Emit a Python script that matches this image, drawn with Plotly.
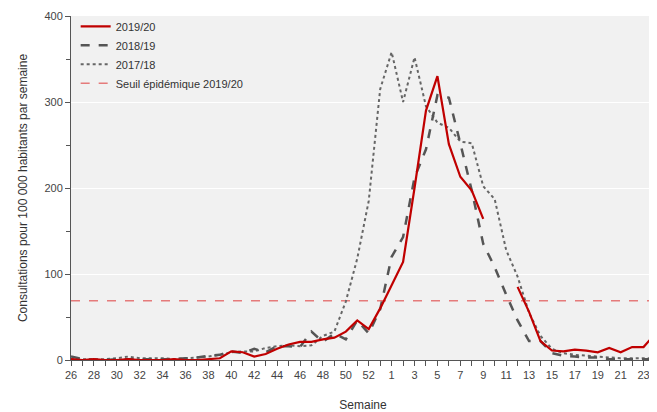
import plotly.graph_objects as go

weeks = [str(w) for w in range(26, 54)] + [str(w) for w in range(1, 25)]
tick_labels = [w if i % 2 == 0 else "" for i, w in enumerate(weeks)]

s2019_20 = [1, 0, 1, 0, 0, 1, 0, 0, 0, 1, 0, 0, 1, 2, 10, 9, 4, 7, 13, 18, 21, 21, 24, 26, 33, 46, 36, 60,
            87, 114, 200, 290, 330, 251, 213, 197, 164, None, None, 85, 56, 22, 11, 10, 12, 11, 9, 14, 9, 15, 15, 30]
s2018_19 = [4, 1, 0, 0, 1, 1, 1, 1, 1, 1, 2, 3, 5, 6, 10, 8, 13, 9, 16, 16, 15, 33, 21, 31, 24, 46, 31, 59,
            120, 143, 212, 245, 308, 305, 252, 197, 135, 108, 76, 46, 22, 22, 8, 5, 4, 3, 3, 1, 1, 1, 1, 1]
s2017_18 = [1, 1, 1, 1, 2, 4, 2, 2, 2, 1, 2, 3, 4, 6, 9, 10, 10, 14, 16, 17, 16, 17, 28, 33, 68, 118, 185, 315,
            358, 300, 352, 295, 276, 270, 254, 252, 202, 187, 128, 97, 55, 28, 13, 8, 6, 5, 4, 3, 2, 2, 2, 2]
threshold = 69
threshold_line = [threshold] * len(weeks)

fig = go.Figure()
fig.add_trace(go.Scatter(x=weeks, y=threshold_line, mode="lines", name="Seuil épidémique 2019/20",
                         line=dict(color="#e57b7b", width=1.5, dash="dash"), legendrank=4))
fig.add_trace(go.Scatter(x=weeks, y=s2017_18, mode="lines", name="2017/18",
                         line=dict(color="#666666", width=2, dash="dot"), legendrank=3))
fig.add_trace(go.Scatter(x=weeks, y=s2018_19, mode="lines", name="2018/19",
                         line=dict(color="#555555", width=2.5, dash="dash"), legendrank=2))
fig.add_trace(go.Scatter(x=weeks, y=s2019_20, mode="lines", name="2019/20",
                         line=dict(color="#c00000", width=2.2), legendrank=1, connectgaps=False))

# page body has an 8px default margin: figure sized/offset to compensate
fig.update_layout(
    width=649, height=404,
    margin=dict(l=63, r=2, t=5, b=51),
    paper_bgcolor="white",
    plot_bgcolor="#f1f1f1",
    font=dict(family="Liberation Sans, Arial, sans-serif", size=11, color="#333333"),
    showlegend=True,
    legend=dict(x=0.008, y=1.012, xanchor="left", yanchor="top", bgcolor="rgba(0,0,0,0)",
                font=dict(size=11, color="#333333"), tracegroupgap=0, itemwidth=30),
    xaxis=dict(
        type="category", categoryorder="array", categoryarray=weeks,
        range=[0, len(weeks) - 1],
        tickmode="array", tickvals=weeks, ticktext=tick_labels,
        ticks="outside", ticklen=5, tickcolor="#555555",
        showline=True, linecolor="#555555", linewidth=1,
        showgrid=False, zeroline=False,
        tickfont=dict(size=11, color="#444444"),
        title=dict(text="Semaine", font=dict(size=12, color="#333333"), standoff=20),
    ),
    yaxis=dict(
        range=[0, 400], tickvals=[0, 100, 200, 300, 400],
        ticks="outside", ticklen=5, tickcolor="#555555",
        ticklabeloverflow="allow",
        minor=dict(tickvals=[50, 150, 250, 350], ticks="outside", ticklen=4, tickcolor="#555555", showgrid=False),
        showline=True, linecolor="#555555", linewidth=1,
        showgrid=True, gridcolor="white", gridwidth=1, zeroline=False,
        tickfont=dict(size=11, color="#444444"),
        title=dict(text="Consultations pour 100 000 habitants par semaine", font=dict(size=12, color="#333333"), standoff=14),
    ),
)

fig.write_html("out.html")
